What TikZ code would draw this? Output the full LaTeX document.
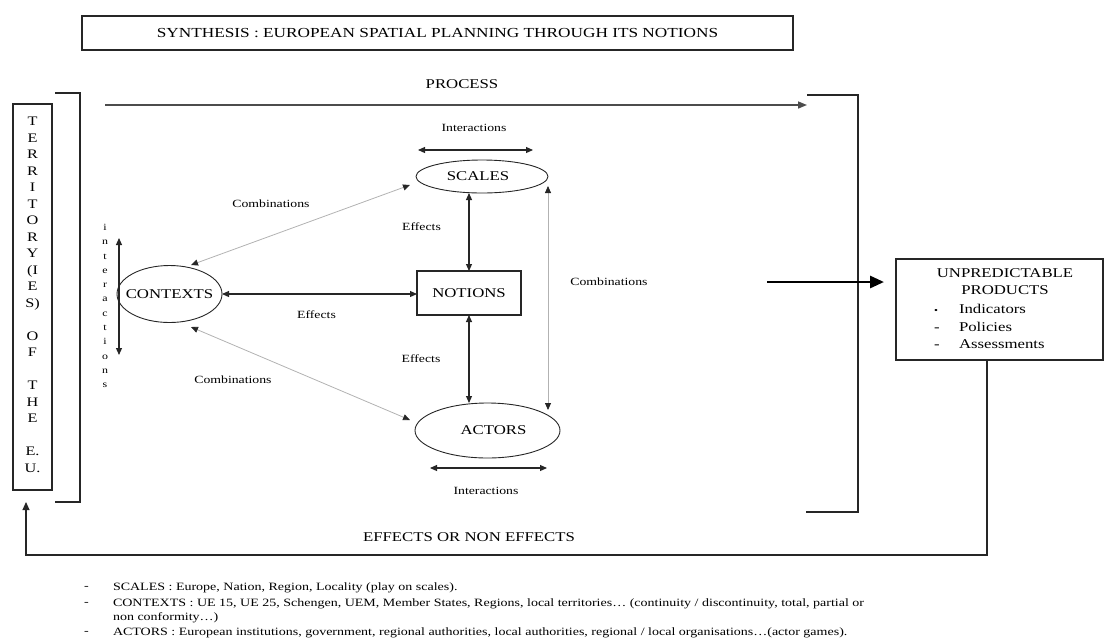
\documentclass[tikz,border=0pt]{standalone}
\usepackage{fontspec}
\setmainfont{Liberation Serif}[FakeStretch=1.25]
\usetikzlibrary{arrows.meta,shapes.geometric}
\begin{document}
\begin{tikzpicture}[x=1pt,y=-1pt,
  every node/.style={inner sep=0pt, outer sep=0pt},
  big/.style={font=\fontsize{13.4}{15}\selectfont},
  small/.style={font=\fontsize{11}{13}\selectfont},
  note/.style={font=\fontsize{11.2}{13}\selectfont, anchor=west},
  item/.style={font=\fontsize{13.4}{15}\selectfont, anchor=base west},
  frame/.style={draw=black!85, line width=1.1pt},
  ell/.style={ellipse, draw=black!85, line width=0.9pt, big},
  dbl/.style={{Triangle[length=7pt,width=6pt]}-{Triangle[length=7pt,width=6pt]}, line width=1.1pt, draw=black!85},
  comb/.style={{Triangle[length=7pt,width=6pt,color=black!85,fill=black!85]}-{Triangle[length=7pt,width=6pt,color=black!85,fill=black!85]}, line width=0.8pt, draw=black!30}
]
\useasboundingbox (0,0) rectangle (1105,641);

% title
\node[frame, minimum width=711, minimum height=34, font=\fontsize{13.8}{15}\selectfont] (title) at (437.5,33) {SYNTHESIS : EUROPEAN SPATIAL PLANNING THROUGH ITS NOTIONS};

% process
\node[big] (proc) at (462,84) {PROCESS};
\coordinate (pstart) at (105,105);
\coordinate (pend) at (807,105);
\draw[line width=1.6pt, draw=black!70, -{Triangle[length=9pt,width=7pt]}] (pstart) -- (pend);

% left bracket and territory box
\draw[frame] (55,93) -- (80,93) -- (80,502) -- (55,502);
\node[frame, minimum width=39, minimum height=386] (terr) at (32.5,297) {};
\node[align=center, font=\fontsize{13}{16.5}\selectfont] (terrtext) at (32.5,295)
 {T\\E\\R\\R\\I\\T\\O\\R\\Y\\(I\\E\\S)\\\mbox{}\\O\\F\\\mbox{}\\T\\H\\E\\\mbox{}\\E.\\U.};

% right bracket
\draw[frame] (807,95) -- (858,95) -- (858,512) -- (806,512);

% central nodes
\node[ell, minimum width=105, minimum height=57] (ctx) at (169.5,294) {\makebox[0pt]{CONTEXTS}};
\node[ell, minimum width=132, minimum height=33] (scl) at (482,176.5) {\makebox[0pt]{\hspace{-8pt}SCALES}};
\node[ell, minimum width=145, minimum height=55] (act) at (487.5,430.5) {\makebox[0pt]{\hspace{12pt}ACTORS}};
\node[draw=black!85, line width=2.4pt, minimum width=104, minimum height=44, big] (not) at (469,293) {NOTIONS};

% vertical interactions
\node[align=center, font=\fontsize{9.5}{14.3}\selectfont] (vint) at (105,306)
 {i\\n\\t\\e\\r\\a\\c\\t\\i\\o\\n\\s};
\coordinate (ia) at (119,238);
\coordinate (ib) at (119,355);
\draw[dbl] (ia) -- (ib);

% effects
\draw[dbl] (not.north |- scl.south) -- (not.north);
\draw[dbl] (not.south) -- (not.south |- act.north);
\draw[dbl] (ctx.east) -- (ctx.east -| not.west);
\node[small] (eff1) at (421.5,227) {Effects};
\node[small] (eff2) at (421,359) {Effects};
\node[small] (eff3) at (316.5,315) {Effects};

% combinations
\coordinate (c1a) at (191,265);
\coordinate (c1b) at (410,185);
\coordinate (c2a) at (191,327);
\coordinate (c2b) at (410,420);
\coordinate (c3a) at (548,186);
\coordinate (c3b) at (548,410);
\draw[comb] (c1a) -- (c1b);
\draw[comb] (c2a) -- (c2b);
\draw[comb] (c3a) -- (c3b);
\node[small] (comb1) at (271,204) {Combinations};
\node[small] (comb2) at (233,380) {Combinations};
\node[small] (comb3) at (609,282) {Combinations};

% horizontal interactions
\coordinate (ta) at (418,150);
\coordinate (tb) at (533,150);
\draw[dbl] (ta) -- (tb);
\node[small] (tint) at (474,128) {Interactions};
\coordinate (ba) at (430,468);
\coordinate (bb) at (547,468);
\draw[dbl] (ba) -- (bb);
\node[small] (bint) at (486,491) {Interactions};

% products
\node[frame, minimum width=207, minimum height=101, anchor=north west] (prod) at (896,259) {};
\node[big] (prodt1) at (1005,273) {UNPREDICTABLE};
\node[big] (prodt2) at (1005,290) {PRODUCTS};
\node[item] (i1) at (934,313) {\makebox[25pt][l]{\small •}Indicators};
\node[item] (i2) at (934,331) {\makebox[25pt][l]{-}Policies};
\node[item] (i3) at (934,348) {\makebox[25pt][l]{-}Assessments};

% thick arrow
\coordinate (ta1) at (767,282);
\coordinate (ta2) at (884,282);
\draw[line width=2.8pt, -{Triangle[length=14pt,width=12pt]}] (ta1) -- (ta2);

% feedback
\coordinate (f1) at (987,360);
\coordinate (f2) at (987,555);
\coordinate (f3) at (26,555);
\coordinate (f4) at (26,502);
\draw[frame, -{Triangle[length=8pt,width=7pt]}] (f1) -- (f2) -- (f3) -- (f4);
\node[big] (eff) at (469,537) {EFFECTS OR NON EFFECTS};

% notes
\node[note] (d1) at (84,588) {-};
\node[note] (d2) at (84,604) {-};
\node[note] (d4) at (84,633) {-};
\node[note] (n1) at (113,588) {SCALES : Europe, Nation, Region, Locality (play on scales).};
\node[note] (n2) at (113,604) {CONTEXTS : UE 15, UE 25, Schengen, UEM, Member States, Regions, local territories… (continuity / discontinuity, total, partial or};
\node[note] (n3) at (113,618) {non conformity…)};
\node[note] (n4) at (113,633) {ACTORS : European institutions, government, regional authorities, local authorities, regional / local organisations…(actor games).};
\end{tikzpicture}
\end{document}
